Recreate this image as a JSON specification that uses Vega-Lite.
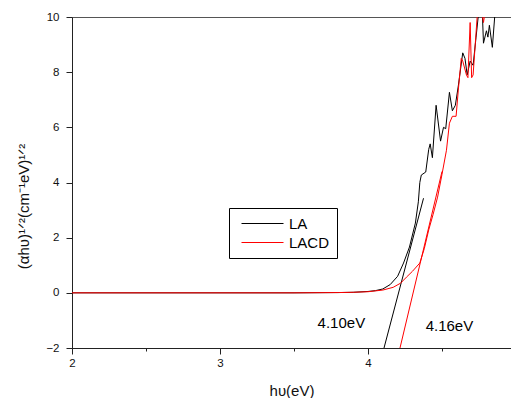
{
  "$schema": "https://vega.github.io/schema/vega-lite/v6.json",
  "width": 439,
  "height": 331,
  "autosize": {"type": "none"},
  "padding": {"left": 72, "top": 17, "right": 0, "bottom": 50},
  "config": {
    "font": "Liberation Sans",
    "view": {"stroke": "#555", "strokeWidth": 1},
    "axis": {"grid": false, "domainColor": "#222", "tickColor": "#222", "labelColor": "#111", "titleColor": "#111", "labelFont": "Liberation Sans", "titleFont": "Liberation Sans", "titleFontWeight": "normal"}
  },
  "datasets": {
    "curves": [
      {"x": 2.0, "y": 0, "s": "LA", "p": "curve"},
      {"x": 3.5, "y": 0, "s": "LA", "p": "curve"},
      {"x": 3.8, "y": 0.01, "s": "LA", "p": "curve"},
      {"x": 3.9, "y": 0.02, "s": "LA", "p": "curve"},
      {"x": 4.0, "y": 0.05, "s": "LA", "p": "curve"},
      {"x": 4.05, "y": 0.08, "s": "LA", "p": "curve"},
      {"x": 4.10, "y": 0.14, "s": "LA", "p": "curve"},
      {"x": 4.15, "y": 0.3, "s": "LA", "p": "curve"},
      {"x": 4.20, "y": 0.6, "s": "LA", "p": "curve"},
      {"x": 4.24, "y": 1.08, "s": "LA", "p": "curve"},
      {"x": 4.28, "y": 1.66, "s": "LA", "p": "curve"},
      {"x": 4.32, "y": 2.53, "s": "LA", "p": "curve"},
      {"x": 4.34, "y": 3.3, "s": "LA", "p": "curve"},
      {"x": 4.35, "y": 4.0, "s": "LA", "p": "curve"},
      {"x": 4.36, "y": 4.27, "s": "LA", "p": "curve"},
      {"x": 4.39, "y": 4.38, "s": "LA", "p": "curve"},
      {"x": 4.41, "y": 5.2, "s": "LA", "p": "curve"},
      {"x": 4.42, "y": 5.4, "s": "LA", "p": "curve"},
      {"x": 4.435, "y": 4.9, "s": "LA", "p": "curve"},
      {"x": 4.46, "y": 6.8, "s": "LA", "p": "curve"},
      {"x": 4.49, "y": 5.5, "s": "LA", "p": "curve"},
      {"x": 4.51, "y": 6.0, "s": "LA", "p": "curve"},
      {"x": 4.525, "y": 5.95, "s": "LA", "p": "curve"},
      {"x": 4.55, "y": 7.27, "s": "LA", "p": "curve"},
      {"x": 4.57, "y": 6.6, "s": "LA", "p": "curve"},
      {"x": 4.59, "y": 6.8, "s": "LA", "p": "curve"},
      {"x": 4.61, "y": 7.5, "s": "LA", "p": "curve"},
      {"x": 4.64, "y": 8.7, "s": "LA", "p": "curve"},
      {"x": 4.655, "y": 8.5, "s": "LA", "p": "curve"},
      {"x": 4.67, "y": 7.9, "s": "LA", "p": "curve"},
      {"x": 4.69, "y": 8.4, "s": "LA", "p": "curve"},
      {"x": 4.71, "y": 8.25, "s": "LA", "p": "curve"},
      {"x": 4.73, "y": 9.27, "s": "LA", "p": "curve"},
      {"x": 4.75, "y": 10.3, "s": "LA", "p": "curve"},
      {"x": 4.77, "y": 10.5, "s": "LA", "p": "curve"},
      {"x": 4.78, "y": 9.05, "s": "LA", "p": "curve"},
      {"x": 4.80, "y": 9.5, "s": "LA", "p": "curve"},
      {"x": 4.81, "y": 9.27, "s": "LA", "p": "curve"},
      {"x": 4.82, "y": 9.7, "s": "LA", "p": "curve"},
      {"x": 4.84, "y": 8.9, "s": "LA", "p": "curve"},
      {"x": 4.86, "y": 10.3, "s": "LA", "p": "curve"},
      {"x": 4.87, "y": 11, "s": "LA", "p": "curve"},
      {"x": 4.108, "y": -2, "s": "LA", "p": "tangent"},
      {"x": 4.375, "y": 3.43, "s": "LA", "p": "tangent"},
      {"x": 2.0, "y": 0, "s": "LACD", "p": "curve"},
      {"x": 3.5, "y": 0, "s": "LACD", "p": "curve"},
      {"x": 3.8, "y": 0.01, "s": "LACD", "p": "curve"},
      {"x": 3.9, "y": 0.02, "s": "LACD", "p": "curve"},
      {"x": 4.0, "y": 0.04, "s": "LACD", "p": "curve"},
      {"x": 4.1, "y": 0.1, "s": "LACD", "p": "curve"},
      {"x": 4.17, "y": 0.2, "s": "LACD", "p": "curve"},
      {"x": 4.22, "y": 0.35, "s": "LACD", "p": "curve"},
      {"x": 4.26, "y": 0.57, "s": "LACD", "p": "curve"},
      {"x": 4.30, "y": 0.78, "s": "LACD", "p": "curve"},
      {"x": 4.35, "y": 1.08, "s": "LACD", "p": "curve"},
      {"x": 4.38, "y": 1.6, "s": "LACD", "p": "curve"},
      {"x": 4.41, "y": 2.28, "s": "LACD", "p": "curve"},
      {"x": 4.44, "y": 2.85, "s": "LACD", "p": "curve"},
      {"x": 4.47, "y": 3.47, "s": "LACD", "p": "curve"},
      {"x": 4.50, "y": 4.3, "s": "LACD", "p": "curve"},
      {"x": 4.53, "y": 5.17, "s": "LACD", "p": "curve"},
      {"x": 4.55, "y": 6.15, "s": "LACD", "p": "curve"},
      {"x": 4.57, "y": 6.4, "s": "LACD", "p": "curve"},
      {"x": 4.595, "y": 6.4, "s": "LACD", "p": "curve"},
      {"x": 4.61, "y": 7.35, "s": "LACD", "p": "curve"},
      {"x": 4.63, "y": 8.5, "s": "LACD", "p": "curve"},
      {"x": 4.64, "y": 8.4, "s": "LACD", "p": "curve"},
      {"x": 4.665, "y": 7.9, "s": "LACD", "p": "curve"},
      {"x": 4.675, "y": 7.8, "s": "LACD", "p": "curve"},
      {"x": 4.69, "y": 9.8, "s": "LACD", "p": "curve"},
      {"x": 4.70, "y": 7.8, "s": "LACD", "p": "curve"},
      {"x": 4.71, "y": 7.9, "s": "LACD", "p": "curve"},
      {"x": 4.74, "y": 10.2, "s": "LACD", "p": "curve"},
      {"x": 4.76, "y": 10.5, "s": "LACD", "p": "curve"},
      {"x": 4.78, "y": 9.8, "s": "LACD", "p": "curve"},
      {"x": 4.80, "y": 10.5, "s": "LACD", "p": "curve"},
      {"x": 4.82, "y": 11, "s": "LACD", "p": "curve"},
      {"x": 4.216, "y": -2, "s": "LACD", "p": "tangent"},
      {"x": 4.50, "y": 4.4, "s": "LACD", "p": "tangent"}
    ],
    "labels": [
      {"x": 3.82, "y": -1.09, "t": "4.10eV"},
      {"x": 4.55, "y": -1.2, "t": "4.16eV"}
    ]
  },
  "layer": [
    {
      "data": {"name": "curves"},
      "mark": {"type": "line", "strokeWidth": 1, "clip": true},
      "encoding": {
        "x": {
          "field": "x", "type": "quantitative",
          "scale": {"domain": [2, 4.966], "nice": false, "zero": false},
          "axis": {
            "title": "hυ(eV)", "titleFontSize": 15, "titlePadding": 15,
            "values": [2, 2.5, 3, 3.5, 4, 4.5],
            "labelExpr": "datum.value % 1 === 0 ? format(datum.value, 'd') : ''",
            "labelFontSize": 11.5, "labelFlush": false, "labelPadding": 3,
            "tickSize": {"condition": {"test": "datum.value % 1 === 0", "value": 6}, "value": 3}
          }
        },
        "y": {
          "field": "y", "type": "quantitative",
          "scale": {"domain": [-2, 10], "nice": false, "zero": false},
          "axis": {
            "title": "(αhυ)¹ᐟ²(cm⁻¹eV)¹ᐟ²", "titleFontSize": 15, "titlePadding": 14,
            "titleY": 189,
            "values": [-2, -1, 0, 1, 2, 3, 4, 5, 6, 7, 8, 9, 10],
            "labelExpr": "datum.value % 2 === 0 ? datum.label : ''",
            "labelFontSize": 11.5, "labelPadding": 7,
            "tickSize": {"condition": {"test": "datum.value % 2 === 0", "value": 6}, "value": 3}
          }
        },
        "color": {
          "field": "s", "type": "nominal",
          "scale": {"domain": ["LA", "LACD"], "range": ["#000000", "#ff0000"]},
          "legend": {
            "title": null, "orient": "none", "legendX": 157, "legendY": 191,
            "symbolType": "M-0.375,0H4.875", "symbolSize": 256, "symbolStrokeWidth": 1,
            "labelFontSize": 15, "labelColor": "#000", "labelOffset": 36,
            "strokeColor": "#000", "padding": 7, "rowPadding": 2,
            "fillColor": "#fff"
          }
        },
        "detail": {"field": "p"}
      }
    },
    {
      "data": {"name": "labels"},
      "mark": {"type": "text", "fontSize": 15, "color": "#000"},
      "encoding": {
        "x": {"field": "x", "type": "quantitative"},
        "y": {"field": "y", "type": "quantitative"},
        "text": {"field": "t"}
      }
    }
  ]
}
